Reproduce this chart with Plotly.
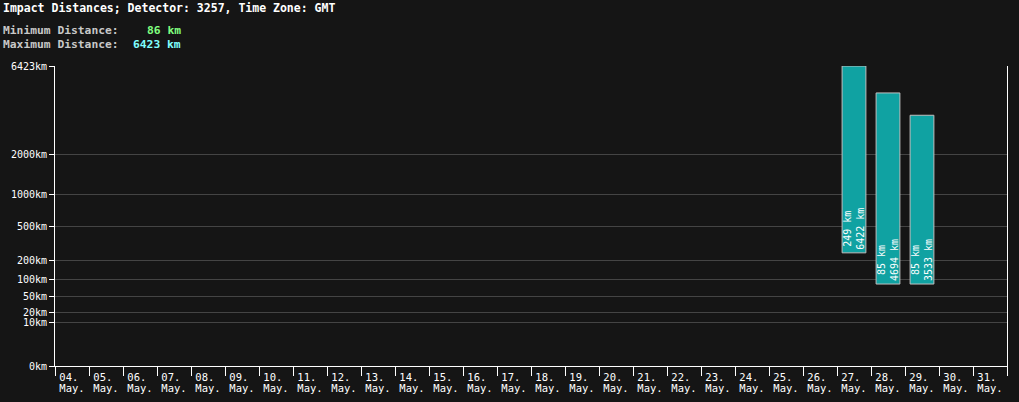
import plotly.graph_objects as go

days = ["04", "05", "06", "07", "08", "09", "10", "11", "12", "13", "14", "15", "16", "17",
        "18", "19", "20", "21", "22", "23", "24", "25", "26", "27", "28", "29", "30", "31"]
month = "May"
bar_days = ["27", "28", "29"]
min_km = [249, 85, 85]
max_km = [6422, 4694, 3533]
ytick_km = [0, 10, 20, 50, 100, 200, 500, 1000, 2000, 6423]
overall_min = 86
overall_max = 6423
detector = 3257

P = 0.3
def tr(v):
    return v ** P

BG = "#151515"
FONT = "DejaVu Sans Mono"

xpos = [days.index(d) for d in bar_days]
base = [tr(a) for a in min_km]
height = [tr(b) - tr(a) for a, b in zip(min_km, max_km)]
texts = [f"{a} km<br>{b} km" for a, b in zip(min_km, max_km)]

fig = go.Figure()
fig.add_trace(go.Bar(
    x=xpos, y=height, base=base, width=0.7,
    marker=dict(color="#10a2a2", line=dict(color="#c0c0c0", width=1)),
    text=texts, textposition="inside", textangle=-90, insidetextanchor="start",
    constraintext="none",
    textfont=dict(family=FONT, size=10, color="white"),
    xaxis="x", yaxis="y", showlegend=False, hoverinfo="skip",
))
for ax in ("x2", "x3"):
    fig.add_trace(go.Scatter(x=[0], y=[0], xaxis=ax, yaxis="y", mode="markers",
                             marker=dict(opacity=0), showlegend=False, hoverinfo="skip"))

n = len(days)
label_axis = dict(
    range=[-0.5, n - 0.5], overlaying="x", side="bottom", anchor="y", automargin=False,
    tickvals=list(range(n)), ticks="outside", tickcolor="rgba(0,0,0,0)",
    showgrid=False, zeroline=False, showline=False,
    tickfont=dict(family=FONT, size=10.5, color="white"),
)
fig.update_layout(
    width=1019, height=402,
    margin=dict(l=55, r=12, t=66, b=36, autoexpand=False),
    paper_bgcolor=BG, plot_bgcolor=BG,
    font=dict(family=FONT, color="white", size=10),
    xaxis=dict(
        range=[-0.5, n - 0.5], automargin=False,
        tickvals=[i - 0.5 for i in range(n + 1)],
        ticktext=["" for _ in range(n + 1)],
        ticks="outside", ticklen=9, tickcolor="white", tickwidth=1,
        showgrid=False, zeroline=False,
        showline=True, linecolor="white", linewidth=1,
    ),
    xaxis2=dict(label_axis, ticktext=[f"{d}.\u00a0" for d in days], ticklen=1),
    xaxis3=dict(label_axis, ticktext=[f"{month}." for d in days], ticklen=12),
    yaxis=dict(
        range=[0, tr(overall_max)], automargin=False,
        tickvals=[tr(v) for v in ytick_km],
        ticktext=[f"{v}km" for v in ytick_km],
        ticks="outside", ticklen=5, tickcolor="white",
        showgrid=True, gridcolor="#444444", gridwidth=1,
        zeroline=False, showline=True, linecolor="white", linewidth=1,
        mirror=True,
        tickfont=dict(family=FONT, size=10, color="white"),
    ),
    bargap=0.3,
)

def px(xp):
    return (xp - 55) / 952
def py(yp):
    return (366 - yp) / 300

anns = [
    dict(text=f"<b>Impact Distances; Detector: {detector}, Time Zone: GMT</b>", x=px(1), y=py(8),
         xanchor="left", color="white", size=11.5),
    dict(text="<b>Minimum Distance:</b>", x=px(1), y=py(31), xanchor="left", color="#c8c8c8", size=11.3),
    dict(text="<b>Maximum Distance:</b>", x=px(1), y=py(44), xanchor="left", color="#c8c8c8", size=11.3),
    dict(text=f"<b>{overall_min} km</b>", x=px(183), y=py(31), xanchor="right", color="#80ff80", size=11.3),
    dict(text=f"<b>{overall_max} km</b>", x=px(183), y=py(44), xanchor="right", color="#80ffff", size=11.3),
]
for a in anns:
    fig.add_annotation(text=a["text"], x=a["x"], y=a["y"], xref="paper", yref="paper",
                       xanchor=a["xanchor"], yanchor="middle", showarrow=False,
                       font=dict(family=FONT, size=a["size"], color=a["color"]))

fig.write_html("out.html", config={"displayModeBar": False},
               post_script="document.body.style.margin='0px';document.body.style.background='#151515';")
